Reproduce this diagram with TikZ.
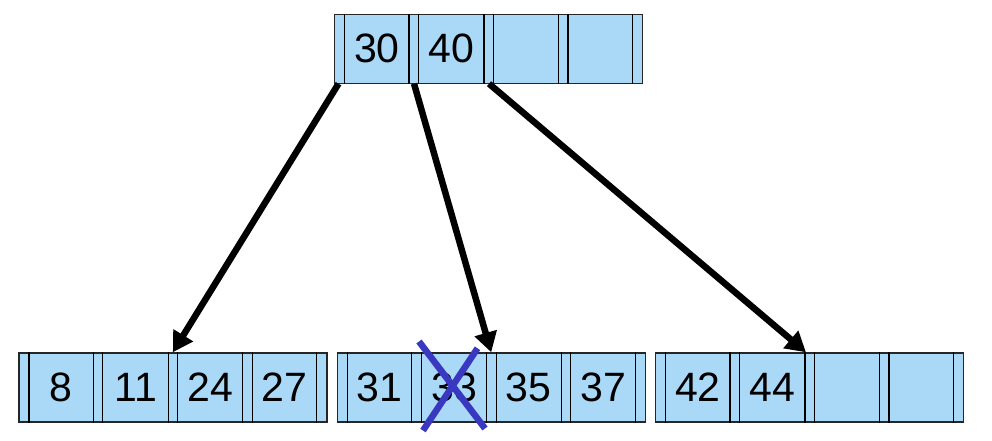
\documentclass[tikz,border=0pt]{standalone}
\usepackage{fontspec}
\setmainfont{Liberation Sans}
\usetikzlibrary{arrows.meta}
\definecolor{cellblue}{RGB}{170,216,247}
\definecolor{crossblue}{RGB}{56,56,192}
\tikzset{
  bbox/.style={rectangle, draw=black!85, line width=1.2pt, fill=cellblue,
    minimum width=308pt, minimum height=69pt, inner sep=0pt, anchor=north west},
  sepline/.style={line width=1.3pt, draw=black},
  keytext/.style={font=\fontsize{41}{41}\selectfont, inner sep=0pt, anchor=center},
  ptr/.style={line width=6.5pt, draw=black, -{Triangle[length=20pt,width=22pt]}},
  crossline/.style={draw=crossblue, line width=6.5pt},
}
\newcommand\bnode[7]{%
  \node[bbox] (#1) at (#2,#3) {};
  \foreach \o in {10.7,75,84.5,150,159.5,224.5,234,298.5}{
    \draw[sepline] ([xshift=\o pt]#1.north west) -- ([xshift=\o pt]#1.south west);}
  \node[keytext] (#1-k1) at ([xshift=42.9pt]#1.west) {#4};
  \node[keytext] (#1-k2) at ([xshift=117.3pt]#1.west) {#5};
  \node[keytext] (#1-k3) at ([xshift=192pt]#1.west) {#6};
  \node[keytext] (#1-k4) at ([xshift=266.3pt]#1.west) {#7};
}
\begin{document}
\begin{tikzpicture}[x=1pt,y=-1pt]
  \useasboundingbox (0,0) rectangle (992,440);
  \bnode{root}{334}{13.5}{30}{40}{}{}
  \bnode{left}{18.3}{352.3}{8}{11}{24}{27}
  \bnode{mid}{336.7}{352.3}{31}{33}{35}{37}
  \bnode{right}{655}{352.3}{42}{44}{}{}
  \draw[ptr] ([xshift=4.5pt]root.south west) -- ([xshift=154.5pt]left.north west);
  \draw[ptr] ([xshift=80pt]root.south west) -- ([xshift=154.5pt]mid.north west);
  \draw[ptr] ([xshift=155pt]root.south west) -- ([xshift=151pt]right.north west);
  \draw[crossline] (419,341.5) -- (485,428.5);
  \draw[crossline] (477.5,348.3) -- (423,430.5);
\end{tikzpicture}
\end{document}
